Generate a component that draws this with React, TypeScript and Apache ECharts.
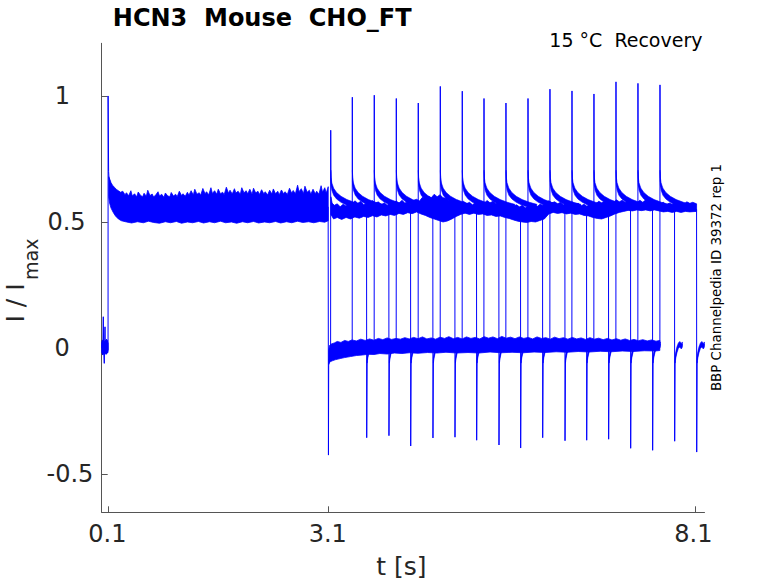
import React, { useEffect, useRef } from 'react';
import * as echarts from 'echarts';

const BLUE = '#0000ff';
const AXIS_COLOR = '#555555';
const TEXT_COLOR = '#262626';
const FONT = 'DejaVu Sans';

const X_MIN = 0.0129;
const X_MAX = 8.22;
const Y_MIN = -0.652;
const Y_MAX = 1.209;
const X_TICKS = [0.1, 3.1, 8.1];
const Y_TICKS = [-0.5, 0, 0.5, 1];
const Y_TICK_LABELS = ['-0.5', '0', '0.5', '1'];

// ---- baseline before the prepulse (t < 0.1 s) ----
const baseTop = [[0.0135, 0.02], [0.03, 0.032], [0.05, 0.026], [0.07, 0.03], [0.09, 0.024], [0.0995, 0.02]];
const baseBottom = [[0.0135, -0.02], [0.03, -0.026], [0.05, -0.02], [0.07, -0.024], [0.09, -0.02], [0.0995, -0.018]];
const onsetTrace = [
  [0.0135, 0.0], [0.02, 0.03], [0.0265, -0.028], [0.0346, 0.124], [0.04, -0.01], [0.048, -0.061],
  [0.058, 0.084], [0.062, -0.012], [0.068, 0.03], [0.074, -0.025], [0.08, 0.035], [0.086, -0.02],
  [0.092, 0.03], [0.097, -0.01], [0.0995, 0.0], [0.1, 1.0], [0.104, 1.0], [0.107, 0.7],
  [0.112, 0.675], [0.125, 0.66], [0.15, 0.64],
];

// ---- prepulse plateau band (0.1 .. 3.1 s) ----
const prepTop = [
  [0.108, 0.68], [0.115, 0.676], [0.125, 0.668], [0.14, 0.656], [0.16, 0.646], [0.185, 0.638],
  [0.21, 0.63], [0.24, 0.624], [0.27, 0.618], [0.3, 0.622], [0.33, 0.608], [0.35, 0.616], [0.38, 0.604],
  [0.41, 0.624], [0.43, 0.603], [0.46, 0.612], [0.49, 0.6], [0.51, 0.619], [0.54, 0.606], [0.57, 0.6],
  [0.59, 0.614], [0.62, 0.602], [0.64, 0.626], [0.67, 0.605], [0.7, 0.611], [0.72, 0.599], [0.75, 0.608],
  [0.78, 0.62], [0.8, 0.603], [0.83, 0.61], [0.86, 0.598], [0.88, 0.615], [0.91, 0.604], [0.94, 0.6],
  [0.96, 0.617], [0.99, 0.603], [1.02, 0.61], [1.04, 0.6], [1.07, 0.622], [1.1, 0.605], [1.12, 0.612],
  [1.15, 0.602], [1.18, 0.618], [1.2, 0.606], [1.23, 0.624], [1.26, 0.607], [1.28, 0.63], [1.31, 0.61],
  [1.34, 0.616], [1.36, 0.606], [1.39, 0.633], [1.42, 0.612], [1.44, 0.62], [1.47, 0.608], [1.5, 0.636],
  [1.52, 0.613], [1.55, 0.624], [1.58, 0.61], [1.6, 0.63], [1.63, 0.612], [1.66, 0.618], [1.68, 0.608],
  [1.71, 0.638], [1.74, 0.614], [1.76, 0.626], [1.79, 0.611], [1.82, 0.632], [1.84, 0.615], [1.87, 0.622],
  [1.9, 0.61], [1.92, 0.636], [1.95, 0.616], [1.98, 0.624], [2.0, 0.612], [2.03, 0.63], [2.06, 0.61],
  [2.08, 0.634], [2.11, 0.615], [2.14, 0.622], [2.16, 0.609], [2.19, 0.628], [2.22, 0.612], [2.24, 0.62],
  [2.27, 0.607], [2.3, 0.626], [2.33, 0.611], [2.35, 0.631], [2.38, 0.612], [2.41, 0.622], [2.43, 0.608],
  [2.46, 0.627], [2.49, 0.612], [2.51, 0.62], [2.54, 0.609], [2.57, 0.634], [2.6, 0.614], [2.62, 0.625],
  [2.65, 0.612], [2.68, 0.646], [2.7, 0.62], [2.73, 0.632], [2.76, 0.613], [2.78, 0.642], [2.81, 0.618],
  [2.84, 0.626], [2.86, 0.61], [2.89, 0.63], [2.92, 0.612], [2.94, 0.622], [2.97, 0.61], [3.0, 0.644],
  [3.02, 0.618], [3.05, 0.636], [3.07, 0.615], [3.097, 0.64],
];
const prepBottom = [
  [0.108, 0.6], [0.12, 0.575], [0.14, 0.555], [0.17, 0.538], [0.2, 0.524], [0.24, 0.512], [0.28, 0.505],
  [0.35, 0.5], [0.42, 0.496], [0.5, 0.501], [0.58, 0.497], [0.65, 0.503], [0.72, 0.498], [0.8, 0.495],
  [0.88, 0.501], [0.95, 0.497], [1.03, 0.502], [1.1, 0.495], [1.18, 0.5], [1.25, 0.497], [1.33, 0.502],
  [1.4, 0.496], [1.48, 0.501], [1.55, 0.497], [1.63, 0.503], [1.7, 0.497], [1.78, 0.5], [1.85, 0.495],
  [1.93, 0.501], [2.0, 0.497], [2.08, 0.502], [2.15, 0.496], [2.23, 0.5], [2.3, 0.497], [2.38, 0.502],
  [2.45, 0.496], [2.53, 0.501], [2.6, 0.497], [2.68, 0.503], [2.75, 0.498], [2.83, 0.501], [2.9, 0.497],
  [2.98, 0.502], [3.05, 0.499], [3.097, 0.505],
];
const stepDownTrace = [[3.096, 0.56], [3.1, -0.425], [3.1035, -0.07], [3.11, -0.045]];

// ---- test-pulse plateau band after 3.1 s ----
const postTop = [
  [3.133, 0.6], [3.15, 0.575], [3.18, 0.566], [3.22, 0.572], [3.26, 0.56], [3.3, 0.57], [3.34, 0.563],
  [3.38, 0.575], [3.42, 0.568], [3.46, 0.584], [3.5, 0.574], [3.54, 0.582], [3.58, 0.568], [3.62, 0.576],
  [3.66, 0.566], [3.7, 0.585], [3.74, 0.574], [3.78, 0.58], [3.82, 0.568], [3.86, 0.576], [3.9, 0.566],
  [3.94, 0.578], [3.98, 0.57], [4.02, 0.584], [4.06, 0.574], [4.1, 0.586], [4.14, 0.575], [4.18, 0.58],
  [4.22, 0.57], [4.26, 0.586], [4.3, 0.59], [4.34, 0.583], [4.38, 0.598], [4.42, 0.59], [4.46, 0.603],
  [4.5, 0.596], [4.54, 0.61], [4.58, 0.6], [4.62, 0.608], [4.66, 0.596], [4.7, 0.594], [4.74, 0.585],
  [4.78, 0.59], [4.82, 0.58], [4.86, 0.586], [4.9, 0.575], [4.94, 0.582], [4.98, 0.572], [5.02, 0.578],
  [5.06, 0.568], [5.1, 0.576], [5.14, 0.57], [5.18, 0.582], [5.22, 0.574], [5.26, 0.585], [5.3, 0.576],
  [5.34, 0.582], [5.38, 0.572], [5.42, 0.578], [5.46, 0.568], [5.5, 0.575], [5.54, 0.566], [5.58, 0.572],
  [5.62, 0.562], [5.66, 0.568], [5.7, 0.56], [5.74, 0.566], [5.78, 0.556], [5.82, 0.564], [5.86, 0.558],
  [5.9, 0.566], [5.94, 0.56], [5.98, 0.57], [6.02, 0.566], [6.06, 0.576], [6.1, 0.584], [6.14, 0.576],
  [6.18, 0.58], [6.22, 0.572], [6.26, 0.578], [6.3, 0.568], [6.34, 0.576], [6.38, 0.57], [6.42, 0.579],
  [6.46, 0.57], [6.5, 0.574], [6.54, 0.564], [6.58, 0.57], [6.62, 0.562], [6.66, 0.572], [6.7, 0.578],
  [6.74, 0.572], [6.78, 0.582], [6.82, 0.576], [6.86, 0.582], [6.9, 0.574], [6.94, 0.58], [6.98, 0.576],
  [7.02, 0.588], [7.06, 0.58], [7.1, 0.586], [7.14, 0.578], [7.18, 0.582], [7.22, 0.574], [7.26, 0.58],
  [7.3, 0.576], [7.34, 0.586], [7.38, 0.578], [7.42, 0.588], [7.46, 0.58], [7.5, 0.586], [7.54, 0.578],
  [7.58, 0.582], [7.62, 0.572], [7.66, 0.578], [7.7, 0.568], [7.74, 0.575], [7.78, 0.57], [7.82, 0.58],
  [7.86, 0.572], [7.9, 0.578], [7.94, 0.57], [7.98, 0.58], [8.02, 0.574], [8.06, 0.578], [8.112, 0.572],
];
const postBottom = [
  [3.133, 0.53], [3.17, 0.512], [3.22, 0.518], [3.28, 0.51], [3.34, 0.518], [3.4, 0.512], [3.46, 0.52],
  [3.52, 0.515], [3.58, 0.522], [3.64, 0.518], [3.7, 0.525], [3.76, 0.52], [3.82, 0.528], [3.88, 0.524],
  [3.94, 0.53], [4.0, 0.526], [4.06, 0.534], [4.12, 0.53], [4.18, 0.537], [4.24, 0.533], [4.3, 0.54],
  [4.36, 0.532], [4.42, 0.526], [4.48, 0.518], [4.54, 0.512], [4.6, 0.506], [4.66, 0.5], [4.72, 0.504],
  [4.78, 0.512], [4.84, 0.522], [4.9, 0.53], [4.96, 0.535], [5.02, 0.53], [5.08, 0.535], [5.14, 0.53],
  [5.2, 0.532], [5.26, 0.526], [5.32, 0.528], [5.38, 0.522], [5.44, 0.524], [5.5, 0.518], [5.56, 0.514],
  [5.62, 0.508], [5.68, 0.503], [5.74, 0.5], [5.8, 0.498], [5.86, 0.502], [5.92, 0.5], [5.98, 0.506],
  [6.04, 0.512], [6.1, 0.532], [6.16, 0.538], [6.22, 0.534], [6.28, 0.537], [6.34, 0.532], [6.4, 0.535],
  [6.46, 0.53], [6.52, 0.532], [6.58, 0.526], [6.64, 0.524], [6.7, 0.518], [6.76, 0.514], [6.82, 0.512],
  [6.88, 0.518], [6.94, 0.524], [7.0, 0.532], [7.06, 0.538], [7.12, 0.542], [7.18, 0.546], [7.24, 0.544],
  [7.3, 0.548], [7.36, 0.545], [7.42, 0.548], [7.48, 0.544], [7.54, 0.548], [7.6, 0.544], [7.66, 0.54],
  [7.72, 0.542], [7.78, 0.538], [7.84, 0.542], [7.9, 0.538], [7.96, 0.542], [8.02, 0.54], [8.112, 0.542],
];

// ---- recovery band near zero after 3.1 s ----
const recTop = [
  [3.103, -0.01], [3.115, 0.01], [3.14, 0.016], [3.18, 0.02], [3.22, 0.026], [3.27, 0.022], [3.32, 0.03],
  [3.37, 0.026], [3.42, 0.032], [3.48, 0.028], [3.54, 0.035], [3.6, 0.03], [3.66, 0.036], [3.72, 0.031],
  [3.78, 0.038], [3.84, 0.033], [3.9, 0.04], [3.96, 0.034], [4.02, 0.038], [4.08, 0.035], [4.14, 0.041],
  [4.2, 0.036], [4.26, 0.042], [4.32, 0.037], [4.38, 0.044], [4.44, 0.036], [4.5, 0.04], [4.56, 0.035],
  [4.62, 0.043], [4.68, 0.038], [4.74, 0.045], [4.8, 0.037], [4.86, 0.042], [4.92, 0.036], [4.98, 0.044],
  [5.04, 0.038], [5.1, 0.042], [5.16, 0.036], [5.22, 0.045], [5.28, 0.039], [5.34, 0.044], [5.4, 0.037],
  [5.46, 0.046], [5.52, 0.039], [5.58, 0.043], [5.64, 0.037], [5.7, 0.044], [5.76, 0.038], [5.82, 0.042],
  [5.88, 0.036], [5.94, 0.044], [6.0, 0.038], [6.06, 0.041], [6.12, 0.035], [6.18, 0.043], [6.24, 0.037],
  [6.3, 0.041], [6.36, 0.035], [6.42, 0.042], [6.48, 0.036], [6.54, 0.04], [6.6, 0.034], [6.66, 0.041],
  [6.72, 0.035], [6.78, 0.039], [6.84, 0.033], [6.9, 0.038], [6.96, 0.032], [7.02, 0.037], [7.08, 0.031],
  [7.14, 0.036], [7.2, 0.03], [7.26, 0.034], [7.32, 0.029], [7.38, 0.033], [7.44, 0.028], [7.5, 0.032],
  [7.56, 0.027], [7.612, 0.03],
];
const recBottom = [
  [3.103, -0.065], [3.12, -0.055], [3.16, -0.05], [3.2, -0.046], [3.26, -0.042], [3.32, -0.038],
  [3.4, -0.034], [3.48, -0.03], [3.56, -0.028], [3.64, -0.025], [3.72, -0.026], [3.8, -0.022],
  [3.9, -0.024], [4.0, -0.02], [4.1, -0.022], [4.2, -0.019], [4.32, -0.021], [4.45, -0.018],
  [4.58, -0.02], [4.7, -0.017], [4.85, -0.02], [5.0, -0.018], [5.15, -0.02], [5.3, -0.016],
  [5.45, -0.019], [5.6, -0.017], [5.75, -0.019], [5.9, -0.016], [6.05, -0.018], [6.2, -0.015],
  [6.35, -0.017], [6.5, -0.014], [6.65, -0.016], [6.8, -0.013], [6.95, -0.015], [7.1, -0.012],
  [7.25, -0.014], [7.4, -0.011], [7.55, -0.012], [7.612, -0.01],
];

// ---- the 16 sweeps: test-pulse onset, peak, offset, tail trough ----
const sweepUpT = [3.131, 3.425, 3.724, 4.024, 4.323, 4.623, 4.922, 5.218, 5.517, 5.817, 6.116, 6.416, 6.715, 7.015, 7.314, 7.614];
const sweepPeak = [0.864, 0.995, 1.003, 0.99, 0.972, 1.038, 1.019, 0.99, 0.972, 0.99, 1.027, 1.02, 1.008, 1.056, 1.05, 1.044];
const sweepDownT = [3.621, 3.924, 4.22, 4.523, 4.823, 5.118, 5.422, 5.717, 6.017, 6.321, 6.616, 6.915, 7.215, 7.514, 7.814, 8.114];
const sweepTrough = [-0.356, -0.348, -0.389, -0.357, -0.354, -0.366, -0.385, -0.397, -0.356, -0.368, -0.366, -0.362, -0.398, -0.406, -0.37, -0.413];
// decay after the onset spike: offset (s), centre, upper and lower edge of the noisy trace
const decayDt = [0.0015, 0.005, 0.015, 0.04, 0.08, 0.14, 0.22, 0.32, 0.42];
const decayV = [0.7, 0.662, 0.64, 0.62, 0.604, 0.59, 0.578, 0.568, 0.56];
const decayTopV = [0.705, 0.676, 0.655, 0.634, 0.617, 0.602, 0.589, 0.578, 0.57];
const decayBotV = [0.66, 0.646, 0.626, 0.606, 0.591, 0.578, 0.566, 0.557, 0.55];
const preUpLevel = 0.01;
const plateauEndLevel = 0.55;
// tail after the offset
const tailDt = [0.006, 0.015, 0.03, 0.05, 0.07, 0.09, 0.105];
const tailV = [-0.05, -0.028, -0.008, 0.01, 0.016, 0.006, 0.014];
const tailTopV = [-0.04, -0.016, 0.004, 0.02, 0.026, 0.018, 0.024];
const tailBotV = [-0.06, -0.04, -0.02, -0.002, 0.004, -0.004, 0.004];

function bandSeries(top: number[][], bottom: number[][]) {
  return {
    type: 'custom',
    silent: true,
    clip: true,
    z: 2,
    data: [top[0]],
    renderItem: (_p: any, api: any) => {
      const pts: number[][] = [];
      for (let i = 0; i < top.length; i++) pts.push(api.coord(top[i]));
      for (let i = bottom.length - 1; i >= 0; i--) pts.push(api.coord(bottom[i]));
      return {
        type: 'polygon',
        shape: { points: pts },
        style: { fill: BLUE, stroke: BLUE, lineWidth: 0.8 },
      };
    },
  };
}

// one narrow noisy band per sweep, anchored at that sweep's onset / offset time
function eventBandSeries(times: number[], dt: number[], topV: number[], botV: number[]) {
  return {
    type: 'custom',
    silent: true,
    clip: true,
    z: 2,
    data: times.map((t, k) => [t, k]),
    renderItem: (_p: any, api: any) => {
      const t0 = api.value(0);
      const pts: number[][] = [];
      for (let i = 0; i < dt.length; i++) pts.push(api.coord([t0 + dt[i], topV[i]]));
      for (let i = dt.length - 1; i >= 0; i--) pts.push(api.coord([t0 + dt[i], botV[i]]));
      return {
        type: 'polygon',
        shape: { points: pts },
        style: { fill: BLUE, stroke: BLUE, lineWidth: 0.6 },
      };
    },
  };
}

function lineSeries(data: number[][]) {
  return {
    type: 'line',
    data,
    symbol: 'none',
    showSymbol: false,
    silent: true,
    z: 3,
    lineStyle: { color: BLUE, width: 1 },
  };
}

function sweepTrace(k: number) {
  const up = sweepUpT[k];
  const down = sweepDownT[k];
  const pts: number[][] = [[up - 0.0015, preUpLevel], [up, sweepPeak[k]]];
  for (let i = 0; i < decayDt.length; i++) pts.push([up + decayDt[i], decayV[i]]);
  pts.push([down - 0.002, plateauEndLevel]);
  pts.push([down, sweepTrough[k]]);
  for (let i = 0; i < tailDt.length; i++) pts.push([down + tailDt[i], tailV[i]]);
  return lineSeries(pts);
}

const yLabelPad: Record<string, number> = { '-0.5': 0, '0': 23.5, '0.5': 7.7, '1': 23.2 };
const yLabelKey: Record<string, string> = { '-0.5': 'm', '0': 'z', '0.5': 'h', '1': 'o' };

function textStyle(text: string, size: number, align: string, extra: any = {}) {
  return {
    text,
    fontSize: size,
    fontFamily: FONT,
    fill: extra.fill || '#000000',
    fontWeight: extra.fontWeight || 'normal',
    align,
    textAlign: align,
    verticalAlign: 'middle',
    textVerticalAlign: 'middle',
  };
}

export default function App() {
  const ref = useRef<HTMLDivElement>(null);

  useEffect(() => {
    document.body.style.margin = '0';
    if (!ref.current) return;
    const chart = echarts.init(ref.current, undefined, { renderer: 'svg' });

    const richY: any = {};
    Y_TICK_LABELS.forEach((lab) => {
      richY[yLabelKey[lab]] = {
        fontSize: 24,
        fontFamily: FONT,
        color: TEXT_COLOR,
        padding: [0, yLabelPad[lab], 0, 0],
      };
    });

    const option: any = {
      animation: false,
      grid: { left: 101.7, top: 43.3, width: 602.8, height: 469, containLabel: false },
      xAxis: {
        type: 'value',
        min: X_MIN,
        max: X_MAX,
        axisLine: { show: true, onZero: false, lineStyle: { color: AXIS_COLOR, width: 1 } },
        axisTick: { show: true, inside: true, length: 6, customValues: X_TICKS, lineStyle: { color: AXIS_COLOR, width: 1 } },
        axisLabel: {
          show: true,
          customValues: X_TICKS,
          margin: 10,
          formatter: (v: number) => (v === 8.1 ? '{e|8.1}' : '{n|' + v.toFixed(1) + '}'),
          rich: {
            n: { fontSize: 24, fontFamily: FONT, color: TEXT_COLOR, padding: [0, 1.4, 0, 0] },
            e: { fontSize: 24, fontFamily: FONT, color: TEXT_COLOR, padding: [0, 4.6, 0, 0] },
          },
          fontSize: 24,
          fontFamily: FONT,
          color: TEXT_COLOR,
        },
        splitLine: { show: false },
      },
      yAxis: {
        type: 'value',
        min: Y_MIN,
        max: Y_MAX,
        axisLine: { show: true, onZero: false, lineStyle: { color: AXIS_COLOR, width: 1 } },
        axisTick: { show: true, inside: true, length: 6, customValues: Y_TICKS, lineStyle: { color: AXIS_COLOR, width: 1 } },
        axisLabel: {
          show: true,
          customValues: Y_TICKS,
          margin: 8.4,
          align: 'right',
          formatter: (v: number) => {
            const idx = Y_TICKS.indexOf(v);
            const lab = idx >= 0 ? Y_TICK_LABELS[idx] : String(v);
            return '{' + yLabelKey[lab] + '|' + lab + '}';
          },
          rich: richY,
          fontSize: 24,
          fontFamily: FONT,
          color: TEXT_COLOR,
        },
        splitLine: { show: false },
      },
      series: [
        bandSeries(baseTop, baseBottom),
        bandSeries(prepTop, prepBottom),
        bandSeries(postTop, postBottom),
        bandSeries(recTop, recBottom),
        eventBandSeries(sweepUpT, decayDt, decayTopV, decayBotV),
        eventBandSeries(sweepDownT, tailDt, tailTopV, tailBotV),
        lineSeries(onsetTrace),
        lineSeries(stepDownTrace),
        ...sweepUpT.map((_, k) => sweepTrace(k)),
      ],
      graphic: [
        { type: 'text', x: 112.8, y: 17.5, style: textStyle('HCN3  Mouse  CHO_FT', 24, 'left', { fontWeight: 'bold' }) },
        { type: 'text', x: 702.5, y: 40, style: textStyle('15 °C  Recovery', 19, 'right') },
        { type: 'text', x: 401.4, y: 566.5, style: textStyle('t [s]', 25, 'center', { fill: TEXT_COLOR }) },
        {
          type: 'group',
          x: 15.8,
          y: 322.5,
          rotation: Math.PI / 2,
          children: [
            { type: 'text', x: 0, y: 0, style: textStyle('I / I', 25, 'left', { fill: TEXT_COLOR }) },
            { type: 'text', x: 42.5, y: 15.5, style: textStyle('max', 19, 'left', { fill: TEXT_COLOR }) },
          ],
        },
        {
          type: 'text',
          x: 716,
          y: 277.5,
          rotation: Math.PI / 2,
          style: textStyle('BBP Channelpedia ID 39372 rep 1', 13.4, 'center'),
        },
      ],
    };

    chart.setOption(option);
    return () => {
      chart.dispose();
    };
  }, []);

  return <div ref={ref} style={{ width: 778, height: 583, position: 'absolute', left: 0, top: 0 }} />;
}
